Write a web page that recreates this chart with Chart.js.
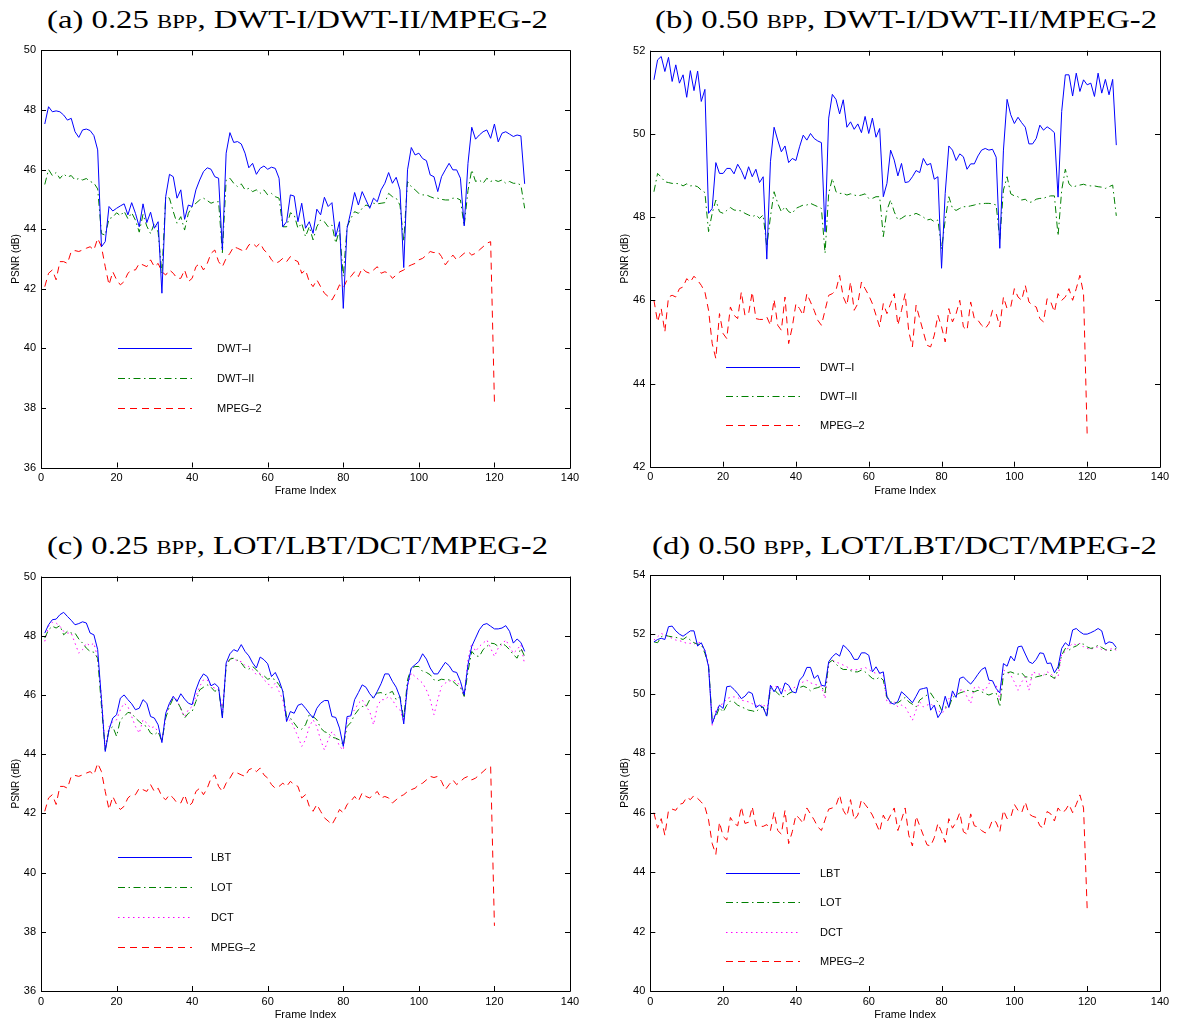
<!DOCTYPE html>
<html>
<head>
<meta charset="utf-8">
<script src="https://cdn.jsdelivr.net/npm/chart.js@4/dist/chart.umd.min.js"></script>
<style>
  html,body{margin:0;padding:0;background:#fff;}
  body{width:1195px;height:1023px;position:relative;overflow:hidden;}
  canvas{position:absolute;}
  .ttl{position:absolute;white-space:nowrap;font-family:"Liberation Serif","DejaVu Serif",serif;font-size:26px;line-height:40px;color:#000;transform-origin:0 50%;}
  .sc{font-variant:small-caps;}
</style>
</head>
<body>
<div class="ttl" id="t0">(a) 0.25 <span class="sc">bpp</span>, DWT-I/DWT-II/MPEG-2</div>
<div class="ttl" id="t1">(b) 0.50 <span class="sc">bpp</span>, DWT-I/DWT-II/MPEG-2</div>
<div class="ttl" id="t2">(c) 0.25 <span class="sc">bpp</span>, LOT/LBT/DCT/MPEG-2</div>
<div class="ttl" id="t3">(d) 0.50 <span class="sc">bpp</span>, LOT/LBT/DCT/MPEG-2</div>
<canvas id="c0" width="600" height="510" style="left:0;top:0"></canvas>
<canvas id="c1" width="595" height="510" style="left:600px;top:0"></canvas>
<canvas id="c2" width="600" height="508" style="left:0;top:515px"></canvas>
<canvas id="c3" width="595" height="508" style="left:600px;top:515px"></canvas>
<script>
// ---------------- DATA ----------------
const frames = Array.from({length:128},(_,i)=>i+1);
const xTicks = [0,20,40,60,80,100,120,140];

const A_DWT1 = [47.53,48.11,47.94,47.97,47.94,47.83,47.66,47.72,47.27,47.08,
47.33,47.36,47.31,47.14,46.66,43.41,43.58,44.76,44.61,44.70,
44.78,44.85,44.48,44.89,44.53,44.08,44.85,44.22,44.57,44.03,
44.25,41.85,45.09,45.84,45.76,45.04,45.32,44.33,44.81,44.76,
45.32,45.65,45.93,46.06,46.01,45.76,45.71,43.30,46.55,47.24,
46.91,46.94,46.86,46.55,46.06,46.21,45.84,46.04,46.12,46.01,
46.08,46.04,45.71,44.08,44.25,45.15,45.11,44.25,44.87,44.03,
44.25,43.86,44.67,44.48,45.07,44.76,44.89,43.75,44.25,41.34,
44.03,44.59,45.23,44.81,45.26,44.98,44.70,45.04,44.92,45.32,
45.54,45.90,45.54,45.74,45.32,42.71,45.99,46.74,46.49,46.55,
46.37,46.30,45.82,45.76,45.26,45.76,45.99,46.21,45.99,45.99,
45.71,44.11,46.21,47.42,47.02,47.16,47.27,47.33,47.05,47.53,
46.93,47.22,47.27,47.19,47.11,47.16,47.13,45.52];

const A_DWT2 = [45.5,46.0,45.8,45.9,45.7,45.85,45.75,45.8,45.65,45.7,
45.65,45.7,45.6,45.55,45.35,43.85,43.8,44.35,44.4,44.55,
44.45,44.6,44.35,44.55,44.3,43.9,44.5,44.1,43.85,44.2,
43.9,42.5,45.09,45.04,44.59,44.2,44.42,43.97,44.53,44.76,
44.87,44.98,45.04,44.96,44.87,44.92,44.92,43.21,45.65,45.71,
45.54,45.43,45.52,45.32,45.37,45.26,45.32,45.2,45.32,45.15,
45.2,45.09,45.04,44.08,44.08,44.55,44.48,44.03,44.2,43.75,
44.08,43.64,44.08,44.31,44.25,44.08,44.14,43.53,43.97,42.41,
44.08,44.36,44.59,44.53,44.7,44.81,44.76,44.87,44.85,44.87,
44.89,45.2,45.09,45.04,44.81,43.6,45.6,45.43,45.32,45.2,
45.15,45.15,45.09,45.04,45.04,45.0,44.98,44.98,45.04,45.04,
44.98,44.11,45.3,45.99,45.6,45.65,45.54,45.71,45.6,45.65,
45.6,45.65,45.54,45.6,45.54,45.54,45.48,44.7];

const A_MPEG = [42.07,42.52,42.63,42.3,42.91,42.91,42.85,43.25,43.28,43.25,
43.3,43.36,43.41,43.3,43.69,43.41,42.74,42.13,42.57,42.3,
42.13,42.24,42.52,42.63,42.63,42.85,42.8,42.74,42.97,42.74,
42.85,42.57,42.46,42.63,42.52,42.35,42.35,42.63,42.24,42.35,
42.74,42.85,42.63,42.85,43.19,43.3,42.91,42.74,43.02,43.19,
43.41,43.36,43.3,43.25,43.47,43.53,43.41,43.53,43.3,43.19,
42.97,42.85,42.91,43.02,42.91,43.08,42.97,42.91,42.52,42.63,
42.24,42.07,42.3,42.07,41.85,41.74,41.62,41.85,42.13,42.02,
42.3,42.41,42.57,42.41,42.69,42.57,42.52,42.63,42.74,42.52,
42.57,42.52,42.35,42.46,42.57,42.63,42.74,42.8,42.85,42.97,
43.02,43.13,43.25,43.21,43.25,43.08,42.8,42.97,43.13,42.97,
43.08,43.19,43.25,43.13,43.19,43.3,43.41,43.53,43.58,38.2];

const B_DWT1 = [51.30,51.78,51.86,51.50,51.84,51.26,51.66,51.22,51.42,50.88,
51.52,51.04,51.51,50.78,51.07,48.09,48.21,49.31,49.05,49.05,
49.17,49.17,49.04,49.27,49.12,48.91,49.21,48.97,49.15,48.83,
48.97,46.99,49.33,50.16,49.85,49.57,49.71,49.31,49.41,49.36,
49.69,49.97,49.85,50.01,49.89,49.83,49.79,47.65,50.38,50.95,
50.83,50.48,50.82,50.16,50.29,50.11,50.24,50.03,50.42,50.01,
50.38,49.92,50.13,48.49,48.81,49.61,49.37,48.99,49.29,48.83,
48.85,48.97,49.12,49.07,49.41,49.25,49.29,48.91,48.97,46.77,
48.57,49.71,49.61,49.36,49.52,49.45,49.15,49.28,49.28,49.47,
49.61,49.65,49.61,49.63,49.44,47.25,49.61,50.83,50.46,50.25,
50.40,50.27,50.16,49.76,49.76,49.89,50.21,50.09,50.17,50.11,
50.03,48.48,50.54,51.42,51.42,50.91,51.46,51.02,51.30,51.18,
51.22,50.90,51.46,50.98,51.31,50.94,51.31,49.73];

const B_DWT2 = [48.61,49.05,48.96,48.85,48.83,48.81,48.81,48.8,48.75,48.8,
48.75,48.76,48.73,48.65,48.59,47.65,48.09,48.41,48.13,48.09,
48.16,48.23,48.17,48.16,48.15,48.09,48.05,48.01,48.05,47.97,
48.05,47.29,48.01,48.61,48.33,48.13,48.25,48.13,48.09,48.21,
48.25,48.29,48.29,48.33,48.29,48.25,48.21,47.13,48.57,48.93,
48.61,48.57,48.57,48.53,48.56,48.53,48.51,48.53,48.56,48.45,
48.45,48.49,48.49,47.53,48.17,48.41,48.13,47.93,47.97,48.03,
48.03,48.05,48.09,48.05,48.0,47.93,47.95,47.89,47.93,47.23,
47.93,48.49,48.21,48.16,48.21,48.25,48.25,48.27,48.29,48.32,
48.32,48.33,48.33,48.32,48.29,47.47,48.65,48.97,48.56,48.51,
48.49,48.41,48.43,48.35,48.37,48.43,48.45,48.45,48.49,48.51,
48.51,47.55,48.65,49.15,48.8,48.72,48.75,48.77,48.79,48.76,
48.75,48.75,48.73,48.72,48.69,48.73,48.77,48.03];

const B_MPEG = [46.0,45.48,45.8,45.24,46.08,46.12,46.08,46.28,46.32,46.52,
46.44,46.58,46.48,46.36,46.2,45.76,44.96,44.6,45.68,45.2,
45.08,45.84,45.64,45.56,46.2,45.64,45.68,46.2,45.56,45.54,
45.54,45.6,45.4,46.02,45.4,45.28,46.08,44.96,45.36,45.92,
45.8,45.64,46.16,45.96,45.76,45.52,45.4,45.76,46.12,46.16,
46.24,46.6,46.08,45.88,46.44,45.76,45.92,46.44,46.28,46.12,
45.92,45.64,45.36,45.92,45.68,45.92,46.16,45.4,45.76,46.16,
45.24,44.88,45.88,45.56,45.24,44.92,44.88,45.16,45.64,45.36,
45.0,45.8,45.48,45.68,46.0,45.36,45.28,45.96,45.56,45.52,
45.4,45.32,45.44,45.76,45.68,45.36,46.08,45.8,45.84,46.28,
46.08,46.0,46.36,45.96,45.88,45.84,45.56,45.48,46.04,45.96,
45.72,46.16,46.0,46.08,46.28,46.0,46.28,46.6,46.16,42.75];

const C_LBT = [48.09,48.37,48.54,48.56,48.71,48.79,48.65,48.52,48.37,48.41,
48.47,48.43,48.09,48.03,47.53,45.84,44.09,44.82,45.22,45.33,
45.89,46.0,45.84,45.7,45.5,45.55,45.84,45.72,45.27,45.22,
44.99,44.39,45.38,45.72,45.95,45.78,46.04,45.86,45.72,45.67,
46.17,46.51,46.71,46.62,46.31,46.38,46.26,45.22,47.08,47.39,
47.53,47.47,47.7,47.47,47.32,47.08,46.91,47.28,47.19,47.05,
46.62,46.76,46.49,46.12,45.1,45.44,45.38,45.65,45.7,45.55,
45.38,45.22,45.55,45.72,45.81,45.81,45.27,45.24,44.88,44.26,
45.27,45.29,45.84,46.08,46.34,46.26,46.04,45.89,46.12,46.38,
46.71,46.71,46.46,46.26,45.93,45.02,46.34,46.91,47.02,47.13,
47.39,47.21,46.91,46.71,46.71,46.91,47.1,46.99,46.79,46.76,
46.46,46.0,47.02,47.64,47.92,48.2,48.37,48.41,48.32,48.23,
48.23,48.26,48.34,48.15,47.75,47.89,47.77,47.47];

const C_LOT = [47.92,48.2,48.32,48.26,48.34,48.03,48.15,48.09,48.09,47.89,
47.75,47.58,47.47,47.44,47.24,45.61,44.14,44.82,44.93,44.6,
45.16,45.27,45.41,45.38,45.22,45.1,44.99,44.93,44.71,44.65,
44.76,44.43,45.22,45.61,45.89,45.78,45.55,45.22,45.38,45.44,
45.78,46.17,46.26,46.34,46.26,46.12,46.2,45.27,46.96,47.21,
47.24,47.17,47.08,46.91,46.87,46.96,46.85,46.68,46.65,46.53,
46.57,46.51,46.34,46.12,45.25,45.22,45.05,44.88,44.84,44.99,
45.33,45.27,45.16,44.88,44.76,44.71,44.57,44.54,44.48,44.31,
44.93,45.07,45.33,45.5,45.61,45.59,45.84,45.95,46.06,46.08,
46.0,46.06,46.12,45.84,45.95,45.2,46.51,46.91,46.96,46.96,
46.79,46.76,46.68,46.51,46.48,46.53,46.51,46.51,46.46,46.34,
46.26,45.95,46.79,47.47,47.32,47.3,47.53,47.64,47.75,47.73,
47.64,47.75,47.66,47.53,47.36,47.24,47.58,47.3];

const C_DCT = [47.81,48.32,48.45,48.43,48.32,48.15,48.09,48.09,47.75,47.41,
47.53,47.75,47.66,47.75,47.24,45.95,44.2,44.93,45.1,45.16,
45.5,45.72,45.61,45.27,44.93,44.71,45.16,45.05,44.88,44.93,
44.76,44.43,45.33,45.72,45.95,45.84,45.5,45.27,45.5,45.61,
45.95,46.29,46.51,46.51,46.29,46.23,46.17,45.5,47.02,47.24,
47.24,47.13,47.13,46.99,46.96,46.85,46.68,46.74,46.51,46.4,
46.23,46.4,46.12,45.84,45.1,45.16,44.88,44.6,44.26,44.48,
44.93,45.16,44.93,44.48,44.14,44.48,44.76,44.6,44.26,44.14,
45.16,45.33,45.5,45.72,45.84,45.61,45.44,44.99,45.61,45.84,
45.84,45.95,45.84,45.61,45.5,45.1,46.29,46.74,46.62,46.51,
46.4,46.17,45.84,45.33,45.84,46.29,46.4,46.46,46.51,46.46,
46.29,45.95,47.19,47.75,47.47,47.64,47.75,47.86,47.58,47.3,
47.58,47.7,47.86,47.64,47.41,47.53,47.7,47.02];

const D_LBT = [51.75,51.83,51.87,51.83,52.26,52.28,52.12,52.01,51.94,52.03,
52.12,52.12,51.61,51.72,51.45,50.91,49.0,49.34,49.62,49.51,
50.24,50.26,50.15,50.01,49.84,49.92,50.07,50.01,49.54,49.62,
49.54,49.25,50.29,50.07,50.26,49.99,50.37,50.29,50.07,50.03,
50.46,50.6,50.89,50.89,50.52,50.63,50.29,50.26,51.08,51.25,
51.36,51.27,51.64,51.53,51.38,51.16,51.16,51.38,51.38,51.3,
50.74,50.91,50.69,50.74,49.92,49.7,49.65,49.75,50.07,49.96,
49.84,49.7,49.92,50.15,50.18,50.21,49.45,49.62,49.2,49.39,
49.92,49.54,50.1,49.88,50.52,50.57,50.44,50.33,50.48,50.66,
50.82,50.89,50.46,50.44,50.18,50.03,51.02,50.93,51.27,51.11,
51.58,51.61,51.34,51.08,51.02,51.16,51.38,51.36,51.02,51.04,
50.71,50.91,51.53,51.72,51.61,52.15,52.2,52.09,52.01,52.01,
52.06,52.12,52.2,52.12,51.67,51.75,51.72,51.56];

const D_LOT = [51.75,51.72,51.92,51.98,51.94,51.92,51.9,51.87,51.83,51.92,
51.81,51.72,51.67,51.67,51.36,50.97,49.11,49.22,49.54,49.39,
49.62,49.76,49.73,49.62,49.56,49.51,49.45,49.43,49.39,49.51,
49.56,49.22,50.18,50.15,50.01,49.92,49.9,50.01,50.07,50.15,
50.21,50.26,50.21,50.1,50.18,50.21,50.26,50.03,51.04,51.13,
51.0,50.89,50.82,50.82,50.78,50.74,50.74,50.8,50.74,50.63,
50.52,50.48,50.57,50.46,49.88,49.73,49.7,49.7,49.79,49.88,
49.73,49.65,49.56,49.79,49.88,49.96,50.03,49.84,49.73,49.45,
49.56,49.54,49.88,49.96,50.03,50.07,50.12,50.1,50.07,50.12,
50.07,50.01,49.96,50.01,50.03,49.56,50.66,50.71,50.74,50.69,
50.66,50.71,50.57,50.57,50.52,50.57,50.6,50.63,50.66,50.6,
50.52,50.8,51.3,51.53,51.47,51.56,51.61,51.7,51.67,51.58,
51.53,51.56,51.64,51.56,51.49,51.45,51.47,51.53];

const D_DCT = [51.81,51.92,52.03,51.98,51.92,51.87,51.81,51.79,51.75,51.7,
51.7,51.67,51.75,51.7,51.47,51.02,48.94,49.45,49.62,49.67,
49.84,49.88,49.9,49.88,49.79,49.76,49.73,49.67,49.62,49.56,
49.67,49.45,50.24,50.26,50.24,50.15,50.1,50.12,50.18,50.24,
50.35,50.4,50.46,50.37,50.33,50.29,50.26,49.84,51.02,51.13,
51.08,51.02,50.97,50.91,50.82,50.8,50.82,50.85,50.89,50.82,
50.74,50.69,50.71,50.63,49.73,49.67,49.73,49.56,49.62,49.56,
49.34,49.11,49.45,49.73,49.56,49.62,49.67,49.56,49.45,49.34,
49.45,49.84,49.96,50.01,50.12,50.15,49.9,49.67,50.21,50.24,
50.15,50.12,50.35,50.4,50.29,49.79,50.8,50.74,50.63,50.4,
50.12,50.4,50.57,50.12,50.74,50.69,50.66,50.63,50.74,50.69,
50.52,50.57,51.36,51.42,51.58,51.7,51.64,51.7,51.58,51.53,
51.49,51.56,51.58,51.49,51.47,51.49,51.53,51.47];

// ---------------- STYLES ----------------
Chart.defaults.font.family = '"Liberation Sans", Arial, Helvetica, sans-serif';
Chart.defaults.font.size = 11;
Chart.defaults.color = '#000';

const ST = {
  blue:    {borderColor:'#0000ff', borderDash:[]},
  green:   {borderColor:'#008000', borderDash:[7,3.5,1.5,3.5]},
  red:     {borderColor:'#ff0000', borderDash:[7,5]},
  magenta: {borderColor:'#ff00ff', borderDash:[1.5,3.5]}
};
function ds(label, data, st){
  return Object.assign({label, data, borderWidth:1, pointRadius:0, fill:false, tension:0}, ST[st]);
}

const matBox = {
  id:'matBox',
  afterDatasetsDraw(chart){
    const {ctx, chartArea:a, scales:{x,y}} = chart;
    ctx.save();
    ctx.strokeStyle = '#000'; ctx.lineWidth = 1;
    ctx.beginPath();
    ctx.rect(Math.round(a.left)+0.5, Math.round(a.top)+0.5, Math.round(a.right)-Math.round(a.left), Math.round(a.bottom)-Math.round(a.top));
    const tl = 5;
    x.ticks.forEach(t=>{
      const px = Math.round(x.getPixelForValue(t.value))+0.5;
      ctx.moveTo(px, a.bottom); ctx.lineTo(px, a.bottom - tl);
      ctx.moveTo(px, a.top); ctx.lineTo(px, a.top + tl);
    });
    y.ticks.forEach(t=>{
      const py = Math.round(y.getPixelForValue(t.value))+0.5;
      ctx.moveTo(a.left, py); ctx.lineTo(a.left + tl, py);
      ctx.moveTo(a.right, py); ctx.lineTo(a.right - tl, py);
    });
    ctx.stroke();
    ctx.restore();
  },
  afterDraw(chart){
    const L = chart.options.plugins.matLegend;
    if(!L) return;
    const ctx = chart.ctx;
    ctx.save();
    chart.data.datasets.forEach((d,i)=>{
      const yy = L.ys[i];
      ctx.strokeStyle = (L.colors && L.colors[i]) || d.borderColor;
      ctx.setLineDash(d.borderDash||[]);
      ctx.lineWidth = 1;
      ctx.beginPath(); ctx.moveTo(L.x1, yy+0.5); ctx.lineTo(L.x2, yy+0.5); ctx.stroke();
      ctx.setLineDash([]);
      ctx.fillStyle = '#000';
      ctx.font = '11px "Liberation Sans", Arial, sans-serif';
      ctx.textBaseline = 'middle'; ctx.textAlign = 'left';
      ctx.fillText(L.labels[i], L.tx, yy+0.5);
    });
    ctx.restore();
  }
};

function make(id, cfg){
  const W = cfg.W, H = cfg.H;
  new Chart(document.getElementById(id), {
    type:'line',
    data:{labels:frames, datasets:cfg.datasets},
    plugins:[matBox],
    options:{
      responsive:false, animation:false, devicePixelRatio:1,
      layout:{padding:{left:0, top:cfg.T, right:W-cfg.R, bottom:0}},
      plugins:{legend:{display:false}, tooltip:{enabled:false}, matLegend:cfg.legend},
      scales:{
        x:{type:'linear', min:0, max:140,
           afterBuildTicks(s){ s.ticks = xTicks.map(v=>({value:v})); },
           afterFit(s){ s.height = H - cfg.B; },
           grid:{display:false, drawTicks:false}, border:{display:false},
           ticks:{padding:4, maxRotation:0, autoSkip:false, color:'#000', font:{size:11}},
           title:{display:true, text:'Frame Index', color:'#000', font:{size:11}, padding:{top:0,bottom:cfg.xtPad}}},
        y:{type:'linear', min:cfg.ymin, max:cfg.ymax,
           ticks:{stepSize:2, padding:5, color:'#000', font:{size:11}},
           afterFit(s){ s.width = cfg.L; },
           grid:{display:false, drawTicks:false}, border:{display:false},
           title:{display:true, text:'PSNR (dB)', color:'#000', font:{size:10}, padding:{top:cfg.ytPad,bottom:0}}}
      }
    }
  });
}

make('c0', {W:600,H:510,L:41,R:570,T:50.4,B:467.5,ymin:36,ymax:50,xtPad:12.4,ytPad:10,
  datasets:[ds('DWT–I',A_DWT1,'blue'), ds('DWT–II',A_DWT2,'green'), ds('MPEG–2',A_MPEG,'red')],
  legend:{x1:118,x2:192,tx:217,ys:[348,378,408],labels:['DWT–I','DWT–II','MPEG–2']}});
make('c1', {W:595,H:510,L:50.3,R:560,T:50.7,B:466.7,ymin:42,ymax:52,xtPad:12.4,ytPad:19,
  datasets:[ds('DWT–I',B_DWT1,'blue'), ds('DWT–II',B_DWT2,'green'), ds('MPEG–2',B_MPEG,'red')],
  legend:{x1:126,x2:200,tx:220,ys:[367,396,425],labels:['DWT–I','DWT–II','MPEG–2']}});
make('c2', {W:600,H:508,L:41,R:570,T:61.5,B:476,ymin:36,ymax:50,xtPad:1.4,ytPad:10,
  datasets:[ds('LBT',C_LBT,'blue'), ds('LOT',C_LOT,'green'), ds('DCT',C_DCT,'magenta'), ds('MPEG–2',A_MPEG,'red')],
  legend:{x1:118,x2:192,tx:211,ys:[342,372,402,432],labels:['LBT','LOT','DCT','MPEG–2']}});
make('c3', {W:595,H:508,L:50.3,R:560,T:60,B:476,ymin:40,ymax:54,xtPad:1.4,ytPad:19,
  datasets:[ds('LBT',D_LBT,'blue'), ds('LOT',D_LOT,'green'), ds('DCT',D_DCT,'magenta'), ds('MPEG–2',B_MPEG,'red')],
  legend:{x1:126,x2:200,tx:220,ys:[358,387,417,446],labels:['LBT','LOT','DCT','MPEG–2']}});

// ---------------- TITLES (fit to reference width) ----------------
const titlePos = [[47,548,0],[655,1157,0],[47,548,526],[652,1157,526]];
titlePos.forEach((p,i)=>{
  const el = document.getElementById('t'+i);
  el.style.left = p[0]+'px'; el.style.top = p[2]+'px';
  const w = el.getBoundingClientRect().width;
  el.style.transform = 'scaleX('+((p[1]-p[0])/w)+')';
});
</script>
</body>
</html>
